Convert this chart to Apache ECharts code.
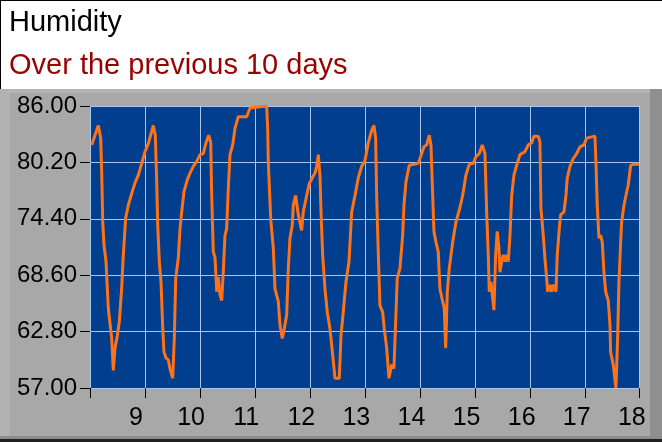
<!DOCTYPE html>
<html>
<head>
<meta charset="utf-8">
<script src="https://cdn.jsdelivr.net/npm/echarts@6/dist/echarts.min.js"></script>
<style>
html,body{margin:0;padding:0;background:#fff;}
#c{width:662px;height:442px;}
</style>
</head>
<body>
<div id="c"></div>
<script>
var titleText = "Humidity";
var subtitleText = "Over the previous 10 days";
var yTicks = [57.00, 62.80, 68.60, 74.40, 80.20, 86.00];
var xTicks = [9, 10, 11, 12, 13, 14, 15, 16, 17, 18];
var days = [
 8.196, 8.256, 8.316, 8.359, 8.377, 8.396, 8.419, 8.456, 8.497, 8.559,
 8.588, 8.619, 8.661, 8.697, 8.740, 8.770, 8.813, 8.860, 8.922, 8.982,
 9.042, 9.103, 9.163, 9.223, 9.254, 9.314, 9.350, 9.376, 9.394, 9.423,
 9.454, 9.485, 9.508, 9.544, 9.586, 9.617, 9.666, 9.695, 9.721, 9.768,
 9.799, 9.829, 9.871, 9.931, 9.980, 10.040, 10.102, 10.162, 10.221, 10.270,
 10.319, 10.356, 10.374, 10.403, 10.434, 10.465, 10.494, 10.525, 10.555, 10.584,
 10.615, 10.646, 10.675, 10.706, 10.755, 10.797, 10.857, 11.009, 11.069, 11.100,
 11.372, 11.390, 11.401, 11.445, 11.492, 11.523, 11.583, 11.613, 11.655, 11.691,
 11.735, 11.764, 11.795, 11.837, 11.855, 11.898, 11.946, 12.007, 12.036, 12.098,
 12.145, 12.207, 12.249, 12.280, 12.309, 12.339, 12.358, 12.388, 12.430, 12.472,
 12.521, 12.570, 12.612, 12.690, 12.721, 12.762, 12.811, 12.866, 12.915, 12.975,
 13.034, 13.096, 13.156, 13.216, 13.278, 13.319, 13.350, 13.368, 13.397, 13.428,
 13.477, 13.506, 13.550, 13.592, 13.641, 13.682, 13.713, 13.742, 13.791, 13.840,
 13.864, 13.900, 13.960, 14.123, 14.185, 14.227, 14.276, 14.323, 14.354, 14.385,
 14.408, 14.445, 14.486, 14.517, 14.566, 14.595, 14.621, 14.650, 14.686, 14.748,
 14.808, 14.868, 14.929, 14.989, 15.049, 15.122, 15.171, 15.230, 15.285, 15.334,
 15.365, 15.394, 15.412, 15.443, 15.467, 15.497, 15.528, 15.557, 15.588, 15.606,
 15.637, 15.666, 15.697, 15.728, 15.757, 15.788, 15.819, 15.860, 15.909, 15.969,
 16.060, 16.120, 16.181, 16.223, 16.301, 16.332, 16.350, 16.392, 16.423, 16.454,
 16.472, 16.514, 16.544, 16.574, 16.623, 16.646, 16.683, 16.708, 16.768, 16.804,
 16.828, 16.877, 16.937, 16.998, 17.058, 17.131, 17.180, 17.209, 17.330, 17.348,
 17.372, 17.403, 17.434, 17.463, 17.494, 17.525, 17.572, 17.603, 17.615, 17.662,
 17.711, 17.742, 17.766, 17.797, 17.815, 17.857, 17.893, 17.935, 17.978, 18.025,
 18.129
];
var humidity = [
 82.0, 83.0, 84.0, 82.7, 79.2, 74.1, 71.7, 70.0, 65.2, 62.1,
 58.8, 61.1, 62.4, 63.8, 67.3, 70.7, 74.5, 75.8, 77.0, 78.1,
 78.9, 80.1, 81.3, 82.1, 82.3, 84.0, 83.0, 78.2, 73.8, 70.0,
 67.9, 63.2, 60.7, 60.1, 59.9, 59.0, 58.0, 62.1, 68.3, 70.4,
 73.4, 75.1, 77.2, 78.4, 79.1, 79.8, 80.3, 81.0, 81.1, 82.2,
 83.0, 82.3, 76.8, 71.0, 70.4, 66.9, 68.4, 66.6, 66.0, 68.9,
 72.7, 73.4, 77.5, 81.0, 82.0, 83.7, 84.9, 84.9, 85.8, 86.0,
 86.0, 83.7, 80.3, 74.4, 71.4, 67.2, 65.9, 63.5, 62.1, 63.1,
 64.5, 69.3, 72.4, 73.8, 75.8, 76.8, 74.8, 73.2, 75.1, 76.8,
 78.0, 78.7, 79.1, 79.8, 81.0, 78.9, 75.1, 70.7, 67.2, 64.8,
 63.1, 60.4, 58.0, 58.0, 62.4, 64.8, 67.9, 70.0, 75.1, 76.8,
 78.6, 79.8, 80.4, 82.2, 83.5, 84.0, 82.7, 76.8, 71.0, 65.5,
 64.8, 63.1, 61.1, 58.0, 59.4, 59.0, 63.8, 68.3, 69.3, 72.7,
 75.8, 78.2, 79.9, 80.1, 81.1, 81.8, 82.0, 83.0, 82.0, 76.8,
 73.1, 72.0, 71.0, 67.2, 65.9, 65.2, 61.1, 66.9, 69.3, 72.0,
 74.1, 75.3, 76.8, 78.9, 80.0, 80.1, 80.8, 81.1, 82.0, 81.1,
 75.1, 70.7, 66.9, 67.9, 66.6, 65.0, 70.7, 73.1, 71.4, 68.9,
 70.0, 70.7, 70.0, 70.7, 70.0, 72.7, 76.8, 78.9, 79.9, 81.0,
 81.3, 82.0, 82.2, 82.9, 82.9, 82.3, 75.5, 72.7, 70.3, 68.3,
 66.9, 67.6, 66.9, 67.6, 66.9, 70.7, 73.4, 74.8, 75.1, 76.8,
 78.6, 79.8, 80.6, 81.1, 81.8, 82.0, 82.7, 82.9, 82.9, 80.3,
 75.8, 72.4, 72.7, 72.0, 68.9, 66.9, 66.0, 63.5, 60.7, 59.4,
 57.0, 62.1, 67.9, 72.0, 74.1, 75.8, 76.8, 77.9, 79.9, 80.0,
 80.0
];

var points = days.map(function (d, i) { return [d, humidity[i]]; });
var FONT = "'Liberation Sans', Arial, sans-serif";
var GRID_COLOR = '#a9c6ef';

var chart = echarts.init(document.getElementById('c'), null, {renderer: 'canvas'});
chart.setOption({
  animation: false,
  backgroundColor: '#ffffff',
  graphic: [
    {type: 'rect', z: -10, silent: true, shape: {x: 0, y: 89, width: 662, height: 353}, style: {fill: '#a8a8a8'}},
    {type: 'rect', z: -9, silent: true, shape: {x: 0, y: 89, width: 662, height: 4}, style: {fill: '#b4b4b4'}},
    {type: 'rect', z: -9, silent: true, shape: {x: 0, y: 89, width: 10, height: 353}, style: {fill: '#b2b2b2'}},
    {type: 'rect', z: -8, silent: true, shape: {x: 650, y: 89, width: 12, height: 353}, style: {fill: '#909090'}},
    {type: 'rect', z: -8, silent: true, shape: {x: 0, y: 436, width: 662, height: 3}, style: {fill: '#8c8c8c'}},
    {type: 'rect', z: -7, silent: true, shape: {x: 0, y: 439, width: 662, height: 3}, style: {fill: '#202020'}},
    {type: 'rect', z: -7, silent: true, shape: {x: 0, y: 0, width: 662, height: 1}, style: {fill: '#000000'}},
    {type: 'rect', z: -7, silent: true, shape: {x: 0, y: 0, width: 1, height: 89}, style: {fill: '#000000'}}
  ],
  title: [
    {text: titleText, left: 4, top: 3,
     textStyle: {fontFamily: FONT, fontSize: 29, fontWeight: 'normal', color: '#000000'}},
    {text: subtitleText, left: 4, top: 46,
     textStyle: {fontFamily: FONT, fontSize: 29, fontWeight: 'normal', color: '#990000'}}
  ],
  grid: {
    left: 90, right: 23, top: 106, bottom: 54,
    show: true, backgroundColor: '#023e8e', borderWidth: 0
  },
  xAxis: {
    type: 'value', min: 8.165, max: 18.13, interval: 1,
    axisLine: {show: false},
    axisTick: {show: true, length: 10, lineStyle: {color: '#000000', width: 1}},
    axisLabel: {
      fontFamily: FONT, fontSize: 25, color: '#000000', margin: 18,
      customValues: xTicks,
      formatter: function (v) { return String(Math.round(v)); }
    },
    splitLine: {show: true, lineStyle: {color: GRID_COLOR, width: 1}}
  },
  yAxis: {
    type: 'value', min: 57, max: 86,
    axisLine: {show: false},
    axisTick: {show: true, length: 10, customValues: yTicks, lineStyle: {color: '#000000', width: 1}},
    axisLabel: {
      fontFamily: FONT, fontSize: 24, color: '#000000', margin: 13,
      customValues: yTicks,
      formatter: function (v) { return v.toFixed(2); }
    },
    splitLine: {show: true, lineStyle: {color: GRID_COLOR, width: 1}}
  },
  series: [{
    type: 'line',
    data: points,
    showSymbol: false,
    smooth: false,
    lineStyle: {color: '#ff7318', width: 3},
    z: 3
  }]
});
</script>
</body>
</html>
